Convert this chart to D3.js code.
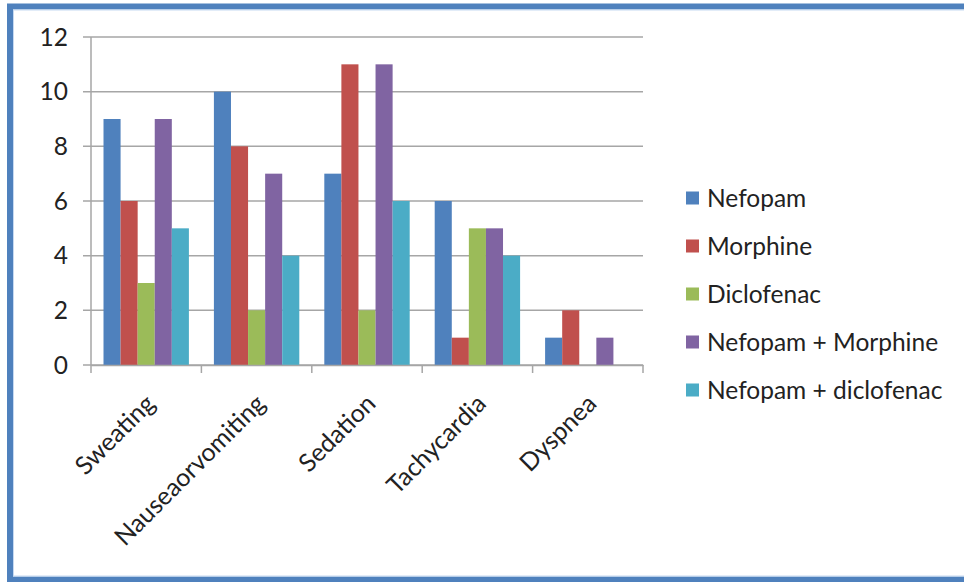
<!DOCTYPE html>
<html><head><meta charset="utf-8">
<script src="https://cdn.jsdelivr.net/npm/d3@7"></script>
<style>body{margin:0;background:#fff}svg{display:block}</style>
</head><body>
<svg id="c" width="964" height="582"></svg>
<script>
const categories = ["Sweating","Nauseaorvomiting","Sedation","Tachycardia","Dyspnea"];
const seriesNames = ["Nefopam","Morphine","Diclofenac","Nefopam + Morphine","Nefopam + diclofenac"];
const nefopam = [9,10,7,6,1];
const morphine = [6,8,11,1,2];
const diclofenac = [3,2,2,5,0];
const nefopamMorphine = [9,7,11,5,1];
const nefopamDiclofenac = [5,4,6,4,0];
const yTicks = [0,2,4,6,8,10,12];
const colors = ["#4f81bd","#c0504d","#9bbb59","#8064a2","#4bacc6"];

const series = [nefopam, morphine, diclofenac, nefopamMorphine, nefopamDiclofenac];
const font = "Lato, 'Open Sans', sans-serif";
const svg = d3.select("#c");

// frame
svg.append("rect").attr("x",10).attr("y",6.5).attr("width",962).attr("height",573)
  .attr("fill","#fff").attr("stroke","#4f81bd").attr("stroke-width",6);
svg.append("rect").attr("x",13.5).attr("y",10).attr("width",962).attr("height",566)
  .attr("fill","none").attr("stroke","#c6d9f1").attr("stroke-width",1);

const L=91, R=643, T=37, B=365;
const x = d3.scaleBand().domain(categories).range([L,R]).paddingInner(0).paddingOuter(0);
const y = d3.scaleLinear().domain([0,12]).range([B,T]);
const gap = 0.2265;
const x1 = d3.scaleBand().domain(d3.range(5)).range([x.bandwidth()*gap/2, x.bandwidth()*(1-gap/2)]);

// gridlines
svg.append("g").selectAll("line").data(yTicks).join("line")
  .attr("x1",L-8).attr("x2",R).attr("y1",d=>y(d)).attr("y2",d=>y(d))
  .attr("stroke","#a6a6a6").attr("stroke-width",1.5);

// y axis line
svg.append("line").attr("x1",L).attr("x2",L).attr("y1",T).attr("y2",B)
  .attr("stroke","#a6a6a6").attr("stroke-width",1.5);

// y tick labels
svg.append("g").selectAll("text").data(yTicks).join("text")
  .attr("x",68).attr("y",d=>y(d)).attr("dy","0.36em").attr("text-anchor","end")
  .attr("font-family",font).attr("font-size",24.5).attr("fill","#222").text(d=>d);

// bars
categories.forEach((c,i)=>{
  const g = svg.append("g").attr("transform",`translate(${x(c)},0)`);
  g.selectAll("rect").data(series.map((s,k)=>({k,v:s[i]}))).join("rect")
    .attr("x",d=>x1(d.k)).attr("width",x1.bandwidth())
    .attr("y",d=>y(d.v)).attr("height",d=>B-y(d.v))
    .attr("fill",d=>colors[d.k]);
});

// x axis
const xa = svg.append("g").attr("transform",`translate(0,${B})`)
  .call(d3.axisBottom(x).tickSize(0).tickFormat(""));
xa.select(".domain").attr("stroke","#a6a6a6").attr("stroke-width",1.5);
const bounds = categories.map(c=>x(c)).concat([R]);
svg.append("g").selectAll("line").data(bounds).join("line")
  .attr("x1",d=>d).attr("x2",d=>d).attr("y1",B).attr("y2",B+8)
  .attr("stroke","#a6a6a6").attr("stroke-width",1.5);

// category labels
svg.append("g").selectAll("text").data(categories).join("text")
  .attr("transform",d=>`translate(${x(d)+x.bandwidth()/2+4},${B+34}) rotate(-45)`)
  .attr("text-anchor","end").attr("dy","0.35em")
  .attr("font-family",font).attr("font-size",25).attr("fill","#222").text(d=>d);

// legend
const lg = svg.append("g").selectAll("g").data(seriesNames).join("g")
  .attr("transform",(d,i)=>`translate(686,${198+i*48})`);
lg.append("rect").attr("x",0).attr("y",-6.5).attr("width",13).attr("height",13).attr("fill",(d,i)=>colors[i]);
lg.append("text").attr("x",21).attr("dy","0.36em").attr("font-family",font).attr("font-size",24.5)
  .attr("fill","#222").text(d=>d);
</script>
</body></html>
